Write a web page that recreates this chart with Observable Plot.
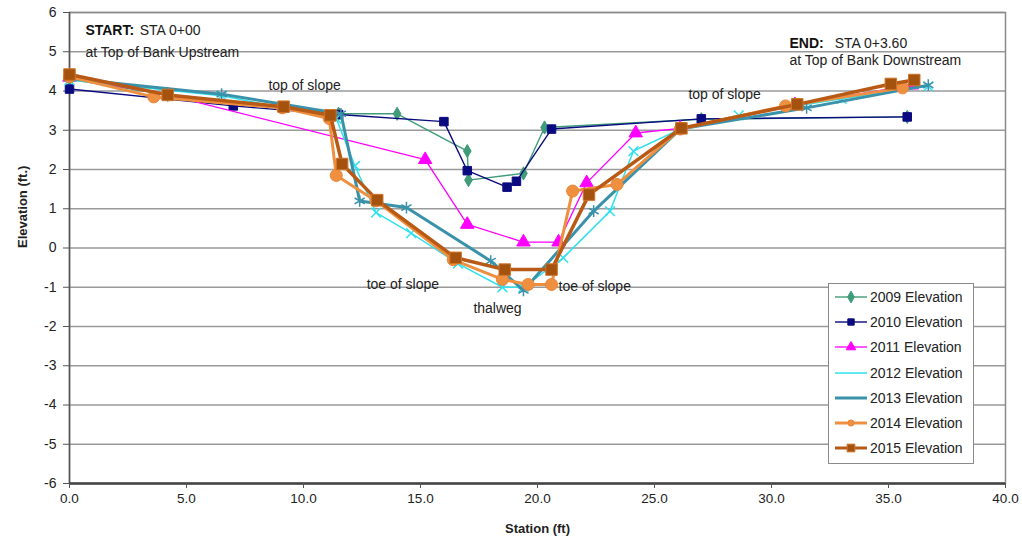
<!DOCTYPE html>
<html><head><meta charset="utf-8">
<script src="https://cdn.jsdelivr.net/npm/d3@7"></script>
<script src="https://cdn.jsdelivr.net/npm/@observablehq/plot@0.6"></script>
<style>
body{margin:0;background:#fff;font-family:"Liberation Sans",Arial,sans-serif;}
#wrap{position:relative;width:1022px;height:546px;}
#legend{position:absolute;left:828px;top:283px;width:146px;height:181px;border:1px solid #8a8a8a;background:#fff;box-sizing:border-box;}
.row{position:absolute;left:5px;height:20px;display:flex;align-items:center;font-size:14px;color:#222;}
.row svg{margin-right:2px;}
</style></head><body><div id="wrap"></div><script>
// ---- data ----
const seriesNames = ["2009 Elevation","2010 Elevation","2011 Elevation","2012 Elevation","2013 Elevation","2014 Elevation","2015 Elevation"];
const sta2009 = [0, 4.2, 11.5, 14.0, 17.0, 17.05, 19.4, 20.3, 27.0, 35.8];
const elev2009 = [4.3, 3.9, 3.42, 3.42, 2.47, 1.73, 1.9, 3.07, 3.28, 3.34];
const sta2010 = [0, 7.0, 11.5, 16.0, 17.0, 18.7, 19.1, 20.6, 27.0, 35.8];
const elev2010 = [4.05, 3.62, 3.4, 3.22, 1.97, 1.55, 1.7, 3.03, 3.29, 3.34];
const sta2011 = [0, 4.2, 15.2, 17.0, 19.4, 20.9, 22.1, 24.2, 26.1, 31.0, 36.0];
const elev2011 = [4.35, 3.9, 2.25, 0.6, 0.15, 0.15, 1.66, 2.93, 3.05, 3.65, 4.15];
const sta2012 = [0, 6.5, 11.4, 12.2, 13.1, 14.6, 16.6, 18.5, 19.4, 21.1, 23.1, 24.1, 26.1, 28.6, 33.0, 36.7];
const elev2012 = [4.28, 3.88, 3.3, 2.09, 0.9, 0.38, -0.4, -1.0, -1.0, -0.25, 0.94, 2.47, 3.03, 3.38, 3.8, 4.12];
const sta2013 = [0, 6.5, 11.6, 12.4, 14.4, 18.0, 19.4, 22.4, 26.1, 31.5, 36.7];
const elev2013 = [4.32, 3.92, 3.42, 1.2, 1.03, -0.33, -1.08, 0.94, 3.03, 3.57, 4.15];
const sta2014 = [0, 3.6, 9.1, 11.1, 11.4, 13.1, 16.4, 18.5, 19.6, 20.6, 21.5, 23.4, 26.1, 30.6, 35.6];
const elev2014 = [4.36, 3.85, 3.57, 3.3, 1.85, 1.2, -0.3, -0.8, -0.93, -0.93, 1.45, 1.62, 3.03, 3.62, 4.08];
const sta2015 = [0, 4.2, 9.15, 11.15, 11.65, 13.15, 16.5, 18.6, 20.6, 22.2, 26.15, 31.1, 35.1, 36.1];
const elev2015 = [4.42, 3.9, 3.6, 3.38, 2.14, 1.22, -0.25, -0.55, -0.55, 1.36, 3.05, 3.66, 4.18, 4.28];
const xTicks = [0, 5, 10, 15, 20, 25, 30, 35, 40];
const yTicks = [-6, -5, -4, -3, -2, -1, 0, 1, 2, 3, 4, 5, 6];
const noteText = ["START:", "STA 0+00", "at Top of Bank Upstream", "END:", "STA 0+3.60", "at Top of Bank Downstream", "top of slope", "top of slope", "toe of slope", "thalweg", "toe of slope"];
const noteSta  = [0.68, 3.0, 0.68, 30.77, 32.7, 30.77, 8.5, 26.45, 12.7, 17.26, 20.9];
const noteElev = [5.53, 5.53, 4.99, 5.2, 5.2, 4.77, 4.15, 3.92, -0.92, -1.53, -0.97];
const noteBold = [true, false, false, true, false, false, false, false, false, false, false];

// ---- styles ----
const styles = [
  {color:"#3f9b78", width:1.4, symbol:"diamond", r:4, fill:"#3f9b78", stroke:"#3f9b78"},
  {color:"#0a0a80", width:1.4, symbol:"square", r:4.8, fill:"#0a0a80", stroke:"#0a0a80"},
  {color:"#ff00ff", width:1.3, symbol:"triangle", r:5, fill:"#ff00ff", stroke:"#ff00ff"},
  {color:"#30e0ee", width:1.5, symbol:"times", r:4.5, fill:"none", stroke:"#30e0ee"},
  {color:"#3a92aa", width:3, symbol:"asterisk", r:5.5, fill:"none", stroke:"#3a92aa"},
  {color:"#ee9040", width:3, symbol:"circle", r:6, fill:"#ee9040", stroke:"#e8863a"},
  {color:"#b85a16", width:3.5, symbol:"square", r:6.5, fill:"#a6520f", stroke:"#cf7428"}
];
const stas = [sta2009, sta2010, sta2011, sta2012, sta2013, sta2014, sta2015];
const elevs = [elev2009, elev2010, elev2011, elev2012, elev2013, elev2014, elev2015];

const marks = [
  Plot.gridY(yTicks, {stroke:"#9a9a9a", strokeOpacity:1, strokeWidth:1.5}),
  Plot.frame({stroke:"#8a8a8a", strokeWidth:1.5}),
  Plot.ruleX([0], {stroke:"#555", strokeWidth:1.5}),
  Plot.ruleY([-6], {stroke:"#444", strokeWidth:2.5}),
  Plot.axisY(yTicks, {tickSize:6, tickPadding:7, fontSize:14, label:null, stroke:"#555", fill:"#222", tickFormat:d=>String(d)}),
  Plot.axisX(xTicks, {tickSize:5, tickPadding:5, fontSize:13.5, label:null, tickFormat:d=>d.toFixed(1), stroke:"#555", fill:"#222"})
];
seriesNames.forEach((name, i) => {
  const rows = stas[i].map((s, j) => ({station:s, elevation:elevs[i][j]}));
  const st = styles[i];
  marks.push(Plot.line(rows, {x:"station", y:"elevation", stroke:st.color, strokeWidth:st.width, strokeLinejoin:"round"}));
  marks.push(Plot.dot(rows, {x:"station", y:"elevation", symbol:st.symbol, r:st.r, fill:st.fill, stroke:st.stroke, strokeWidth: st.fill === "none" ? 1.5 : 1}));
});
const notes = noteText.map((t, i) => ({t, x:noteSta[i], y:noteElev[i], bold:noteBold[i]}));
marks.push(Plot.text(notes.filter(d=>d.bold), {x:"x", y:"y", text:"t", textAnchor:"start", fontSize:14, fontWeight:"bold", fill:"#111"}));
marks.push(Plot.text(notes.filter(d=>!d.bold), {x:"x", y:"y", text:"t", textAnchor:"start", fontSize:14, fill:"#222"}));
marks.push(Plot.text(["Elevation (ft.)"], {frameAnchor:"left", dx:-47, rotate:-90, fontSize:13, fontWeight:"bold", fill:"#222"}));
marks.push(Plot.text(["Station (ft)"], {frameAnchor:"bottom", dy:49, fontSize:13, fontWeight:"bold", fill:"#222"}));

const chart = Plot.plot({
  width:1022, height:546,
  marginLeft:69, marginRight:17, marginTop:12, marginBottom:63,
  x:{domain:[0,40]}, y:{domain:[-6,6]},
  style:{fontFamily:"Liberation Sans, Arial, sans-serif", background:"#fff"},
  marks
});
const wrap = document.getElementById("wrap");
wrap.appendChild(chart);

// legend
const legend = document.createElement("div");
legend.id = "legend";
wrap.appendChild(legend);
const symMap = {diamond:d3.symbolDiamond, square:d3.symbolSquare, triangle:d3.symbolTriangle, times:d3.symbolTimes, asterisk:d3.symbolAsterisk, circle:d3.symbolCircle};
seriesNames.forEach((name, i) => {
  const st = styles[i];
  const row = document.createElement("div");
  row.className = "row";
  row.style.top = (3 + i*25.2) + "px";
  const svg = d3.create("svg").attr("width", 34).attr("height", 20);
  svg.append("line").attr("x1",1).attr("x2",33).attr("y1",10).attr("y2",10).attr("stroke",st.color).attr("stroke-width",Math.min(st.width,3));
  if (i !== 3 && i !== 4) {
    const size = i === 5 ? 30 : (i === 6 ? 60 : 40);
    svg.append("path").attr("d", d3.symbol(symMap[st.symbol], size)()).attr("transform","translate(17,10)")
      .attr("fill", st.fill).attr("stroke", st.stroke);
  }
  row.appendChild(svg.node());
  const span = document.createElement("span");
  span.textContent = name;
  row.appendChild(span);
  legend.appendChild(row);
});
</script></body></html>
